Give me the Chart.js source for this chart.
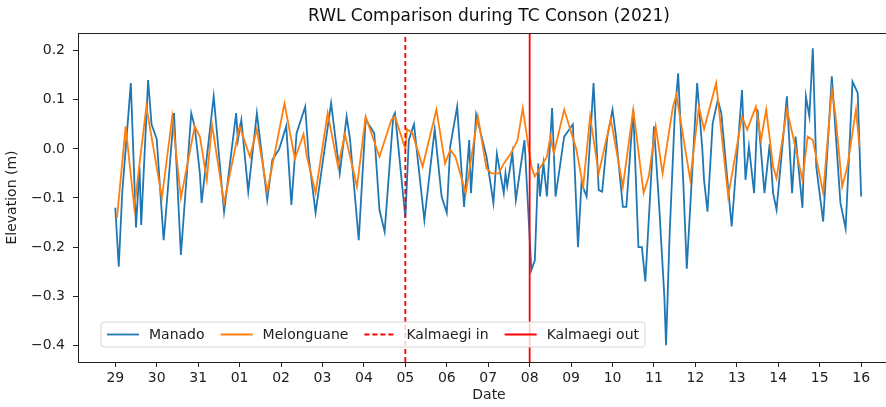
<!DOCTYPE html>
<html>
<head>
<meta charset="utf-8">
<script src="https://cdn.jsdelivr.net/npm/chart.js@4.4.1/dist/chart.umd.min.js"></script>
<style>
  html, body { margin: 0; padding: 0; background: #fff; overflow: hidden; width: 886px; height: 407px; }
  #wrap { position: relative; width: 910px; height: 407px; }
</style>
</head>
<body>
<div id="wrap"><canvas id="c"></canvas></div>
<script>
// ---- Data (hours since 29 Aug 00:00) ----
const chartTitle = 'RWL Comparison during TC Conson (2021)';
const dateTickLabels = ['29','30','31','01','02','03','04','05','06','07','08','09','10','11','12','13','14','15','16'];
const dateTickHours = [0,24,48,72,96,120,144,168,192,216,240,264,288,312,336,360,384,408,432];
const yTickValues = [-0.4,-0.3,-0.2,-0.1,0.0,0.1,0.2];

const manadoHours = [0,2,4,9,12,14,15,19,21,24,28,29,34,38,44,46,49,50,57,63,70,71,73,77,82,88,91,95,99,102,105,110,112,116,125,130,134,136,141,145,150,153,156,161,162,168,170,173,179,185,189,192,194,198,202,205,206,209,215,219,221,225,226,227,230,232,237,241,243,245,246,248,250,253,255,260,265,268,270,273,277,280,282,285,288,290,294,296,300,303,305,307,312,315,318,319,321,324,326,329,331,337,340,341,343,346,349,351,357,363,365,367,370,372,376,379,381,383,389,392,394,398,400,402,404,406,410,415,420,423,427,430,432];
const manadoValues = [-0.12,-0.24,-0.09,0.134,-0.16,-0.036,-0.155,0.14,0.05,0.02,-0.186,-0.145,0.073,-0.216,0.073,0.045,-0.05,-0.11,0.107,-0.128,0.073,0.018,0.059,-0.087,0.073,-0.104,-0.022,0.0,0.046,-0.114,0.032,0.086,-0.016,-0.13,0.093,-0.05,0.066,0.018,-0.186,0.06,0.032,-0.124,-0.169,0.066,0.073,-0.14,0.018,0.05,-0.145,0.04,-0.097,-0.13,0.005,0.086,-0.118,0.018,-0.09,0.07,-0.016,-0.11,-0.01,-0.09,-0.05,-0.076,-0.008,-0.104,0.018,-0.247,-0.227,-0.03,-0.097,-0.03,-0.097,0.083,-0.097,0.025,0.05,-0.2,-0.07,-0.097,0.134,-0.084,-0.087,0.025,0.08,0.025,-0.118,-0.118,0.08,-0.2,-0.2,-0.27,0.046,-0.116,-0.30,-0.40,-0.18,0.066,0.154,-0.07,-0.244,0.134,0.0,-0.063,-0.128,0.052,0.1,0.073,-0.158,0.12,-0.063,0.005,-0.09,0.08,-0.09,0.01,-0.09,-0.124,0.107,-0.09,0.025,-0.12,0.107,0.066,0.205,-0.036,-0.148,0.148,-0.11,-0.162,0.137,0.114,-0.097];

const melonguaneHours = [1,6,11,18,27,33,38,46,49,53,56,63,72,78,82,88,98,104,109,111,116,123,129,133,140,145,153,160,162,168,169,172,178,186,191,194,197,203,210,215,218,222,225,229,233,236,241,243,250,252,254,260,267,271,275,280,287,294,300,306,309,313,317,323,325,333,338,341,348,355,363,366,371,374,377,381,383,389,393,398,401,404,410,415,417,421,424,429,431];
const melonguaneValues = [-0.14,0.046,-0.12,0.086,-0.1,0.066,-0.1,0.046,0.025,-0.063,0.05,-0.11,0.046,-0.016,0.04,-0.087,0.093,-0.02,0.03,-0.016,-0.09,0.073,-0.036,0.03,-0.077,0.066,-0.016,0.06,0.066,0.0,0.04,0.033,-0.036,0.08,-0.03,-0.002,-0.016,-0.09,0.066,-0.04,-0.05,-0.05,-0.03,-0.01,0.018,0.083,-0.036,-0.056,-0.016,0.025,-0.009,0.08,0.0,-0.077,0.066,-0.05,0.06,-0.077,0.08,-0.09,-0.056,0.046,-0.05,0.086,0.11,-0.063,0.086,0.04,0.134,-0.097,0.066,0.039,0.086,0.018,0.08,-0.036,-0.06,0.08,0.018,-0.063,0.025,0.018,-0.09,0.12,0.073,-0.077,-0.036,0.08,0.005];

const kalmaegiInHour = 168;
const kalmaegiOutHour = 240;

// ---- Axis ranges ----
const xMin = -21.6, xMax = 454.5;
const yMin = -0.434, yMax = 0.236;

const FONT = '"DejaVu Sans", sans-serif';

const toPoints = (hs, vs) => hs.map((h, i) => ({ x: h, y: vs[i] }));

const decor = {
  id: 'decor',
  afterDraw(chart) {
    const { ctx, chartArea: a } = chart;
    ctx.save();
    // frame
    ctx.strokeStyle = '#222';
    ctx.lineWidth = 1;
    ctx.strokeRect(Math.round(a.left) + 0.5, Math.round(a.top) + 0.5, a.right - a.left, a.bottom - a.top);
    // title
    ctx.font = '17px ' + FONT;
    ctx.fillStyle = '#111';
    ctx.textAlign = 'center';
    ctx.textBaseline = 'middle';
    ctx.fillText(chartTitle, (a.left + a.right) / 2, 17);
    // legend
    ctx.font = '14px ' + FONT;
    const ds = chart.data.datasets;
    const boxL = 101, boxT = 322, boxH = 25;
    let x = boxL + 6;
    const items = ds.map(d => ({ d, w: ctx.measureText(d.label).width }));
    let total = 6;
    items.forEach((it, i) => { total += 32 + 10 + it.w + (i < items.length - 1 ? 16 : 6); });
    const r = 3;
    ctx.beginPath();
    ctx.moveTo(boxL + r, boxT);
    ctx.lineTo(boxL + total - r, boxT);
    ctx.quadraticCurveTo(boxL + total, boxT, boxL + total, boxT + r);
    ctx.lineTo(boxL + total, boxT + boxH - r);
    ctx.quadraticCurveTo(boxL + total, boxT + boxH, boxL + total - r, boxT + boxH);
    ctx.lineTo(boxL + r, boxT + boxH);
    ctx.quadraticCurveTo(boxL, boxT + boxH, boxL, boxT + boxH - r);
    ctx.lineTo(boxL, boxT + r);
    ctx.quadraticCurveTo(boxL, boxT, boxL + r, boxT);
    ctx.closePath();
    ctx.fillStyle = 'rgba(255,255,255,0.8)';
    ctx.fill();
    ctx.strokeStyle = '#d6d6d6';
    ctx.lineWidth = 1;
    ctx.stroke();
    const cy = boxT + boxH / 2;
    ctx.textAlign = 'left';
    items.forEach((it) => {
      ctx.beginPath();
      ctx.strokeStyle = it.d.borderColor;
      ctx.lineWidth = it.d.borderWidth;
      ctx.setLineDash(it.d.borderDash || []);
      ctx.moveTo(x, cy);
      ctx.lineTo(x + 32, cy);
      ctx.stroke();
      ctx.setLineDash([]);
      x += 32 + 10;
      ctx.fillStyle = '#222';
      ctx.fillText(it.d.label, x, cy + 1);
      x += it.w + 16;
    });
    ctx.restore();
  }
};

new Chart(document.getElementById('c'), {
  type: 'line',
  data: {
    datasets: [
      { label: 'Manado', data: toPoints(manadoHours, manadoValues), borderColor: '#1f77b4', borderWidth: 1.8, pointRadius: 0, tension: 0, order: 3 },
      { label: 'Melonguane', data: toPoints(melonguaneHours, melonguaneValues), borderColor: '#ff7f0e', borderWidth: 1.8, pointRadius: 0, tension: 0, order: 2 },
      { label: 'Kalmaegi in', data: [{ x: kalmaegiInHour, y: yMin }, { x: kalmaegiInHour, y: yMax }], borderColor: '#ff0000', borderWidth: 1.8, borderDash: [5, 3], pointRadius: 0, order: 1 },
      { label: 'Kalmaegi out', data: [{ x: kalmaegiOutHour, y: yMin }, { x: kalmaegiOutHour, y: yMax }], borderColor: '#ff0000', borderWidth: 1.8, pointRadius: 0, order: 0 }
    ]
  },
  options: {
    responsive: true,
    maintainAspectRatio: false,
    animation: false,
    layout: { padding: { top: 33, right: 10, left: 0, bottom: 0 } },
    plugins: { legend: { display: false }, title: { display: false }, tooltip: { enabled: false } },
    scales: {
      x: {
        type: 'linear', min: xMin, max: xMax,
        afterBuildTicks: s => { s.ticks = dateTickHours.map(v => ({ value: v })); },
        afterFit: s => { s.height = 45; },
        ticks: { autoSkip: false, maxRotation: 0, padding: 3, color: '#222', font: { family: FONT, size: 14 },
                 callback: v => dateTickLabels[dateTickHours.indexOf(v)] },
        grid: { drawOnChartArea: false, drawTicks: true, tickLength: 5, color: '#222' },
        border: { display: false },
        title: { display: true, text: 'Date', color: '#222', font: { family: FONT, size: 14 }, padding: { top: 0, bottom: 3 } }
      },
      y: {
        type: 'linear', min: yMin, max: yMax,
        afterBuildTicks: s => { s.ticks = yTickValues.map(v => ({ value: v })); },
        afterFit: s => { s.width = 78; },
        ticks: { padding: 8, color: '#222', font: { family: FONT, size: 14 },
                 callback: v => (v < -1e-9 ? '\u2212' + Math.abs(v).toFixed(1) : Math.abs(v).toFixed(1)) },
        grid: { drawOnChartArea: false, drawTicks: true, tickLength: 5, color: '#222' },
        border: { display: false },
        title: { display: true, text: 'Elevation (m)', color: '#222', font: { family: FONT, size: 14 }, padding: { top: 4, bottom: 4 } }
      }
    }
  },
  plugins: [decor]
});
</script>
</body>
</html>
